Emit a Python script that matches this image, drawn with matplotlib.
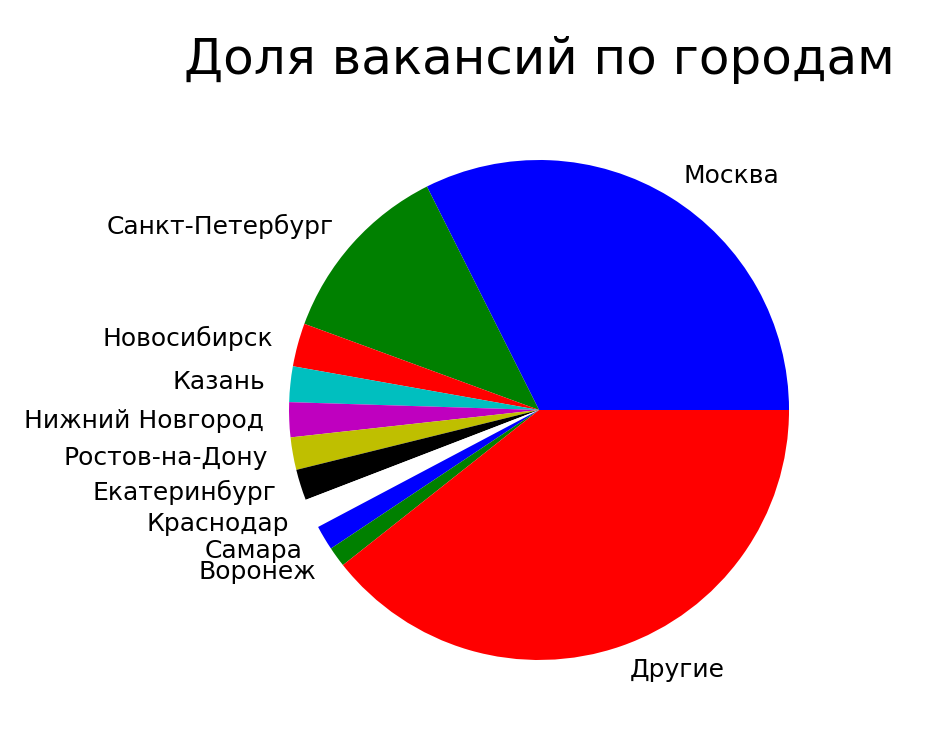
import matplotlib
matplotlib.use('Agg')
import matplotlib.pyplot as plt

# ===========================
# DATA — shares of vacancies, %
# ===========================
CITIES = ['Москва', 'Санкт-Петербург', 'Новосибирск', 'Казань',
          'Нижний Новгород', 'Ростов-на-Дону', 'Екатеринбург',
          'Краснодар', 'Самара', 'Воронеж', 'Другие']
SHARES = [32.4, 12.0, 2.8, 2.3, 2.25, 2.1, 2.0, 1.9, 1.6, 1.3, 39.35]
COLORS = ['b', 'g', 'r', 'c', 'm', 'y', 'k', 'w', 'b', 'g', 'r']

TITLE = 'Доля вакансий по городам'

# ===========================
# PLOT
# ===========================
fig = plt.figure(figsize=(9.45, 7.32), dpi=100)
ax = fig.add_axes([0.2397, 0.013, 0.6614, 0.8538])
ax.pie(SHARES, labels=CITIES, colors=COLORS,
       textprops={'fontsize': 18})
ax.set_aspect('equal')
ax.set_title(TITLE, fontsize=36, pad=17)

fig.savefig('out.png', dpi=100)
